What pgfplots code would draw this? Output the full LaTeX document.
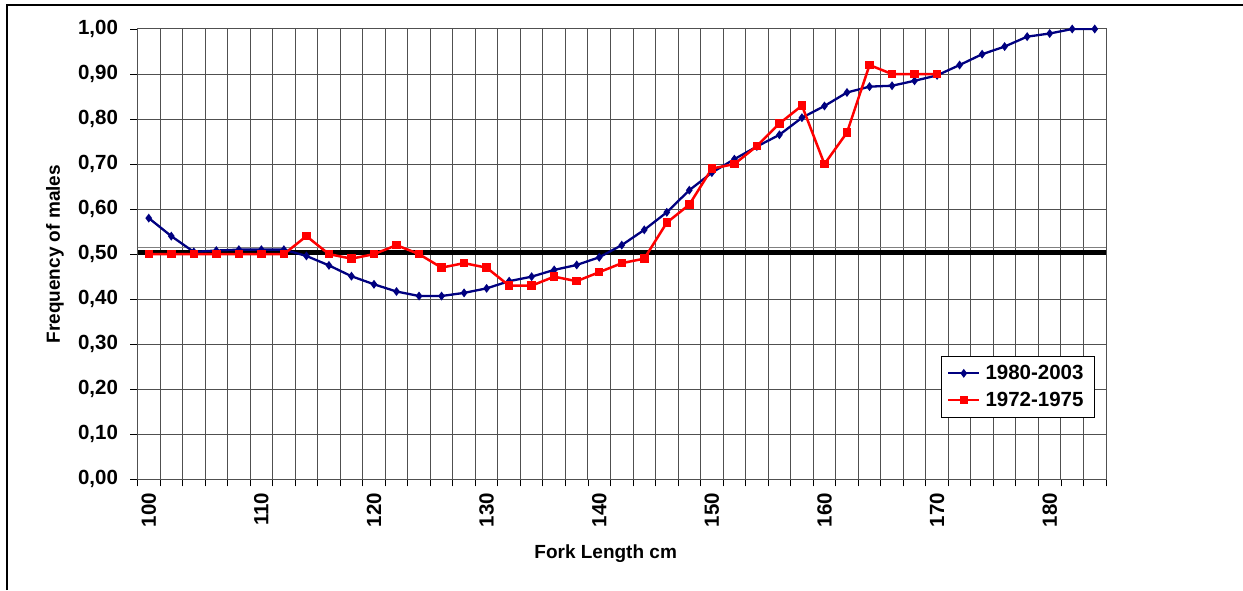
\documentclass[border=0pt]{standalone}
\usepackage{pgfplots}
\pgfplotsset{compat=1.18}
\usepackage{fontspec}
\setmainfont{Liberation Sans}
\definecolor{navyline}{RGB}{0,0,128}
\definecolor{redline}{RGB}{255,0,0}
\definecolor{gridgray}{RGB}{80,80,80}
\begin{document}
\begin{tikzpicture}
\useasboundingbox (0,0) rectangle (1243pt,590pt);
\draw[line width=1.5pt] (7pt,0) -- (7pt,585pt) -- (1243pt,585pt);
\begin{axis}[
    at={(137.5pt,110.7pt)}, anchor=south west,
    scale only axis, width=968.5pt, height=450.3pt,
    xmin=99, xmax=185, ymin=0, ymax=1,
    xtick={99,101,...,185}, xticklabels={},
    extra x ticks={100,110,...,180},
    extra x tick labels={100,110,120,130,140,150,160,170,180},
    extra x tick style={grid=none, major tick length=0pt,
        tick label style={rotate=90, anchor=east, xshift=-10pt}},
    ytick={0,0.1,...,1.01},
    yticklabel style={xshift=-9pt},
    /pgf/number format/.cd, fixed, fixed zerofill, precision=2, use comma, assume math mode=true,
    /pgfplots/.cd,
    tick label style={font=\fontsize{20.5}{24}\selectfont\bfseries},
    tick align=outside, major tick length=7pt,
    xtick pos=bottom, ytick pos=left,
    grid=major,
    major grid style={gridgray, line width=1pt},
    axis line style={gridgray, line width=1pt},
    tick style={black, line width=0.9pt},
    xlabel={Fork Length cm},
    ylabel={Frequency of males},
    label style={font=\fontsize{19}{22}\selectfont\bfseries},
    xlabel style={at={(axis description cs:0.4834,-0.1643)}, anchor=center},
    ylabel style={at={(axis description cs:-0.0852,0.5)}, anchor=center},
    legend style={at={(axis description cs:0.9886,0.2738)}, anchor=north east,
        draw=black, line width=0.8pt, fill=white,
        font=\fontsize{20.5}{24}\selectfont\bfseries,
        inner xsep=6pt, inner ysep=7pt, row sep=7pt,
        nodes={inner xsep=5pt}},
    legend cell align=left,
    legend image code/.code={
        \draw[mark repeat=2, mark phase=2, #1] plot coordinates {(0pt,0pt) (15.5pt,0pt) (31pt,0pt)};
    },
]
% reference line near 0,50
\addplot[gray, line width=1pt, forget plot] coordinates {(99,0.515) (185,0.515)};
\addplot[black, line width=4.6pt, forget plot] coordinates {(99,0.504) (185,0.504)};
% 1980-2003
\addplot[navyline, line width=2.3pt, mark=diamond*, mark size=2.6pt,
    mark options={solid, fill=navyline}] coordinates {
    (100,0.580) (102,0.540) (104,0.505) (106,0.508) (108,0.510) (110,0.510)
    (112,0.510) (114,0.496) (116,0.475) (118,0.451) (120,0.433) (122,0.417)
    (124,0.407) (126,0.407) (128,0.414) (130,0.424) (132,0.440) (134,0.450)
    (136,0.465) (138,0.476) (140,0.493) (142,0.520) (144,0.554) (146,0.593)
    (148,0.642) (150,0.681) (152,0.711) (154,0.739) (156,0.765) (158,0.803)
    (160,0.829) (162,0.859) (164,0.872) (166,0.874) (168,0.885) (170,0.897)
    (172,0.920) (174,0.944) (176,0.961) (178,0.983) (180,0.990) (182,1.000)
    (184,1.000)
};
\addlegendentry{1980-2003}
% 1972-1975
\addplot[redline, line width=2.5pt, mark=square*, mark size=3pt,
    mark options={solid, fill=redline}] coordinates {
    (100,0.50) (102,0.50) (104,0.50) (106,0.50) (108,0.50) (110,0.50)
    (112,0.50) (114,0.54) (116,0.50) (118,0.49) (120,0.50) (122,0.52)
    (124,0.50) (126,0.47) (128,0.48) (130,0.47) (132,0.43) (134,0.43)
    (136,0.45) (138,0.44) (140,0.46) (142,0.48) (144,0.49) (146,0.57)
    (148,0.61) (150,0.69) (152,0.70) (154,0.74) (156,0.79) (158,0.83)
    (160,0.70) (162,0.77) (164,0.92) (166,0.90) (168,0.90) (170,0.90)
};
\addlegendentry{1972-1975}
\end{axis}
\end{tikzpicture}
\end{document}
